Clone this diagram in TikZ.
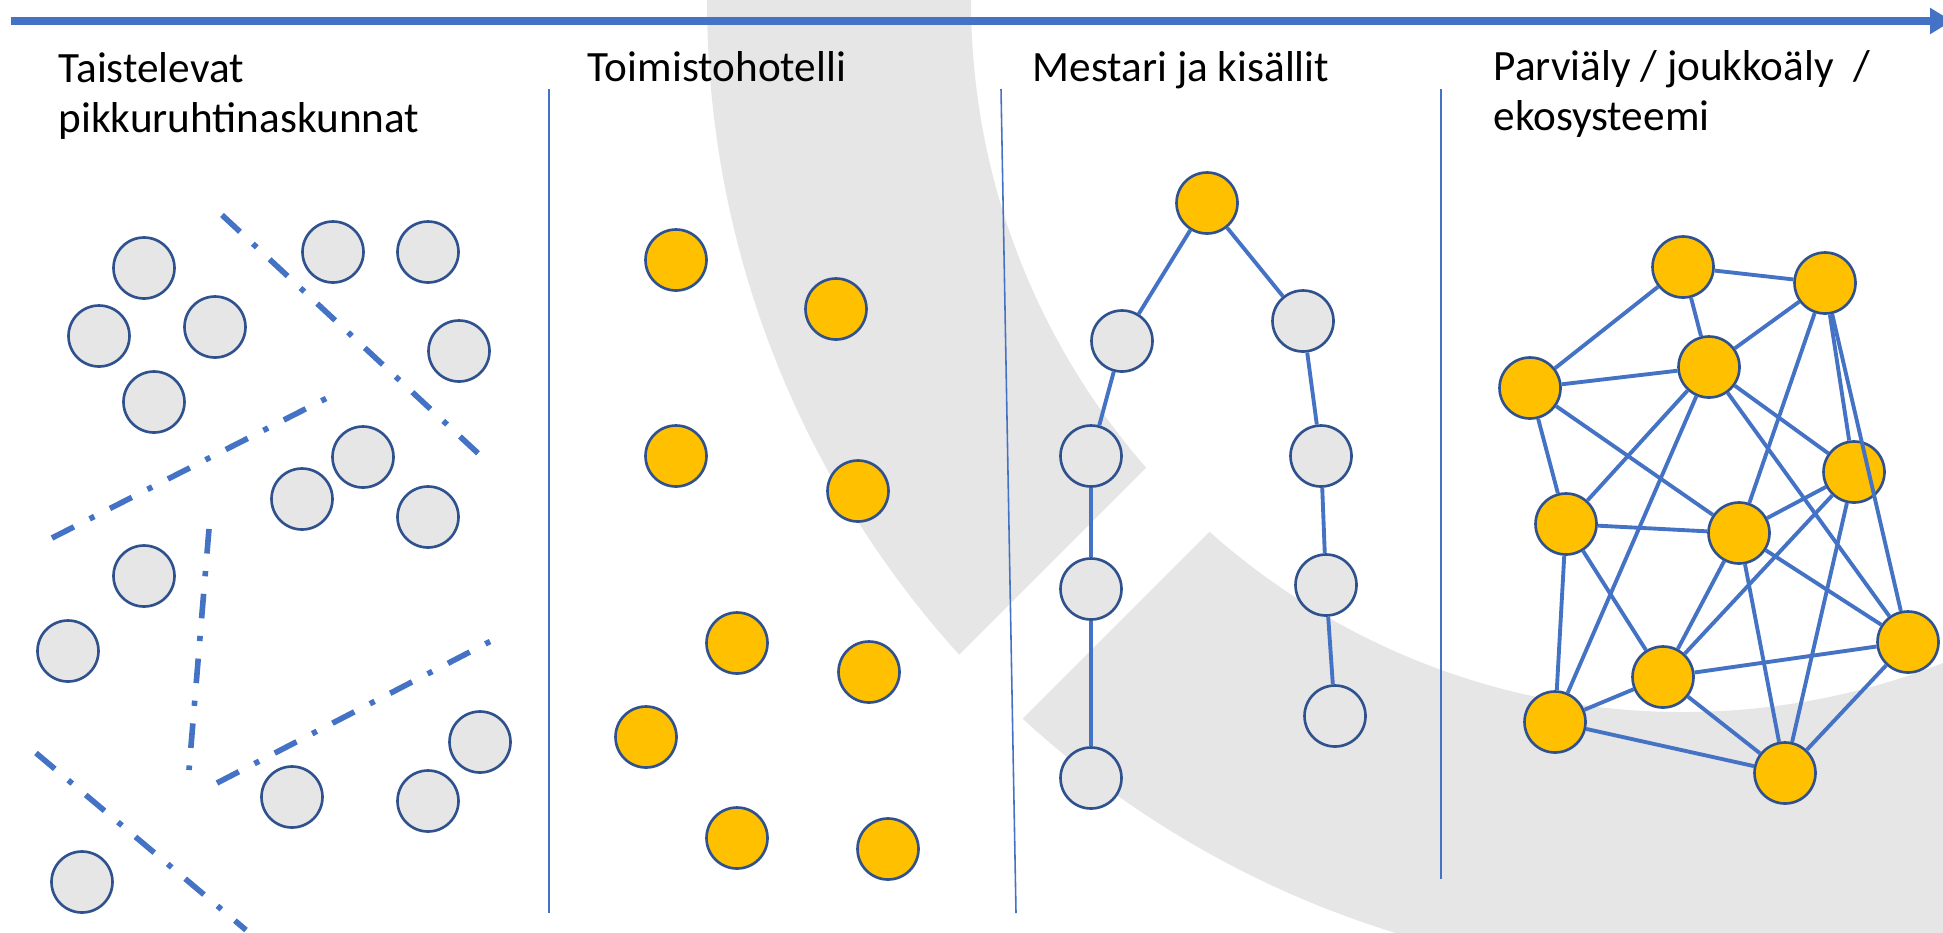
\documentclass[tikz,border=0pt]{standalone}
\usepackage{fontspec}
\setmainfont{Carlito}
\usepackage{tikz}
\usetikzlibrary{shapes,arrows.meta}
\usetikzlibrary{positioning}
\usetikzlibrary{calc}
\definecolor{lineblue}{RGB}{68,114,196}
\definecolor{rimblue}{RGB}{47,82,143}
\definecolor{ballgray}{RGB}{231,230,230}
\definecolor{ballgold}{RGB}{255,192,0}
\tikzstyle{grayball} = [draw=rimblue, fill=ballgray, circle, line width=0.75pt, minimum size=0.61cm, inner sep=0pt]
\tikzstyle{goldball} = [grayball, fill=ballgold]
\tikzstyle{link} = [draw=lineblue, line width=1.1pt]
\tikzstyle{fence} = [draw=lineblue, line width=1.6pt, dash pattern=on 7pt off 5pt on 1.5pt off 5pt]
\tikzstyle{divider} = [draw=lineblue, line width=0.45pt]
\tikzstyle{heading} = [anchor=base west, inner sep=0pt, align=left, font=\fontsize{12.3pt}{14.2pt}\selectfont]

\begin{document}
\begin{tikzpicture}
\useasboundingbox (0,0) rectangle (19.43,-9.32);
\clip (0,0) rectangle (19.43,-9.32);

% Background ring
\fill [ballgray, even odd rule] (16.83,0) circle (9.76) (16.83,0) circle (7.12);
\fill [white] (16.14,0) -- (6.14,-10) -- (7.41,-10) -- (17.41,0) -- cycle;

% Time line
\coordinate (start) at (0.11,-0.21);
\coordinate (finish) at (19.52,-0.21);
\draw [lineblue, line width=2.3pt, -{Triangle[length=0.22cm,width=0.25cm]}] (start) -- (finish);

% Dividers
\coordinate (d1top) at (5.49,-0.89);
\coordinate (d1bot) at (5.49,-9.13);
\coordinate (d2top) at (10.01,-0.89);
\coordinate (d2bot) at (10.16,-9.13);
\coordinate (d3top) at (14.41,-0.89);
\coordinate (d3bot) at (14.41,-8.79);
\draw [divider] (d1top) -- (d1bot);
\draw [divider] (d2top) -- (d2bot);
\draw [divider] (d3top) -- (d3bot);

% Headings (two-line ones sit on their last line)
\node [heading] (fights) at (0.58,-1.32) {Taistelevat\\pikkuruhtinaskunnat};
\node [heading] (hotel) at (5.87,-0.81) {Toimistohotelli};
\node [heading] (master) at (10.32,-0.81) {Mestari ja kisällit};
\node [heading] (swarm) at (14.93,-1.30) {Parviäly / joukkoäly\ \ /\\ekosysteemi};

% Small realms
\node [grayball] (r1) at (1.44,-2.68) {};
\node [grayball] (r2) at (0.99,-3.36) {};
\node [grayball] (r3) at (2.15,-3.27) {};
\node [grayball] (r4) at (1.54,-4.02) {};
\node [grayball] (r5) at (3.33,-2.52) {};
\node [grayball] (r6) at (4.28,-2.52) {};
\node [grayball] (r7) at (4.59,-3.51) {};
\node [grayball] (r8) at (3.63,-4.57) {};
\node [grayball] (r9) at (3.02,-4.99) {};
\node [grayball] (r10) at (4.28,-5.17) {};
\node [grayball] (r11) at (1.44,-5.76) {};
\node [grayball] (r12) at (0.68,-6.51) {};
\node [grayball] (r13) at (2.92,-7.97) {};
\node [grayball] (r14) at (4.28,-8.01) {};
\node [grayball] (r15) at (4.80,-7.42) {};
\node [grayball] (r16) at (0.82,-8.82) {};

% Fences between realms
\coordinate (fa1) at (2.22,-2.15);
\coordinate (fa2) at (4.82,-4.57);
\coordinate (fb1) at (0.52,-5.38);
\coordinate (fb2) at (3.27,-3.98);
\coordinate (fc1) at (2.09,-5.29);
\coordinate (fc2) at (1.89,-7.70);
\coordinate (fd1) at (2.17,-7.83);
\coordinate (fd2) at (4.91,-6.41);
\coordinate (fe1) at (0.36,-7.53);
\coordinate (fe2) at (2.46,-9.30);
\draw [fence] (fa1) -- (fa2);
\draw [fence] (fb1) -- (fb2);
\draw [fence] (fc1) -- (fc2);
\draw [fence] (fd1) -- (fd2);
\draw [fence] (fe1) -- (fe2);

% Office hotel
\node [goldball] (o1) at (6.76,-2.60) {};
\node [goldball] (o2) at (8.36,-3.09) {};
\node [goldball] (o3) at (6.76,-4.56) {};
\node [goldball] (o4) at (8.58,-4.91) {};
\node [goldball] (o5) at (7.37,-6.43) {};
\node [goldball] (o6) at (8.69,-6.72) {};
\node [goldball] (o7) at (6.46,-7.37) {};
\node [goldball] (o8) at (7.37,-8.38) {};
\node [goldball] (o9) at (8.88,-8.49) {};

% Master and journeymen
\node [goldball] (m0) at (12.07,-2.03) {};
\node [grayball] (ml1) at (11.22,-3.41) {};
\node [grayball] (ml2) at (10.91,-4.56) {};
\node [grayball] (ml3) at (10.91,-5.89) {};
\node [grayball] (ml4) at (10.91,-7.78) {};
\node [grayball] (mr1) at (13.03,-3.21) {};
\node [grayball] (mr2) at (13.21,-4.56) {};
\node [grayball] (mr3) at (13.26,-5.85) {};
\node [grayball] (mr4) at (13.35,-7.16) {};
\draw [link] (m0) -- (ml1);
\draw [link] (ml1) -- (ml2);
\draw [link] (ml2) -- (ml3);
\draw [link] (ml3) -- (ml4);
\draw [link] (m0) -- (mr1);
\draw [link] (mr1) -- (mr2);
\draw [link] (mr2) -- (mr3);
\draw [link] (mr3) -- (mr4);

% Swarm
\node [goldball] (n1) at (16.83,-2.67) {};
\node [goldball] (n2) at (18.25,-2.83) {};
\node [goldball] (n3) at (17.09,-3.67) {};
\node [goldball] (n4) at (15.30,-3.88) {};
\node [goldball] (n5) at (18.54,-4.72) {};
\node [goldball] (n6) at (15.66,-5.24) {};
\node [goldball] (n7) at (17.39,-5.33) {};
\node [goldball] (n8) at (19.08,-6.42) {};
\node [goldball] (n9) at (16.63,-6.77) {};
\node [goldball] (n10) at (15.55,-7.22) {};
\node [goldball] (n11) at (17.85,-7.73) {};
\draw [link] (n1) -- (n2);
\draw [link] (n1) -- (n3);
\draw [link] (n1) -- (n4);
\draw [link] (n2) -- (n3);
\draw [link] (n2) -- (n5);
\draw [link] (n2) -- (n7);
\draw [link] (n2) -- (n8);
\draw [link] (n3) -- (n4);
\draw [link] (n3) -- (n5);
\draw [link] (n3) -- (n6);
\draw [link] (n3) -- (n8);
\draw [link] (n3) -- (n10);
\draw [link] (n4) -- (n6);
\draw [link] (n4) -- (n7);
\draw [link] (n5) -- (n7);
\draw [link] (n5) -- (n9);
\draw [link] (n5) -- (n11);
\draw [link] (n6) -- (n7);
\draw [link] (n6) -- (n9);
\draw [link] (n6) -- (n10);
\draw [link] (n7) -- (n8);
\draw [link] (n7) -- (n9);
\draw [link] (n7) -- (n11);
\draw [link] (n8) -- (n9);
\draw [link] (n8) -- (n11);
\draw [link] (n9) -- (n10);
\draw [link] (n9) -- (n11);
\draw [link] (n10) -- (n11);
\end{tikzpicture}
\end{document}
